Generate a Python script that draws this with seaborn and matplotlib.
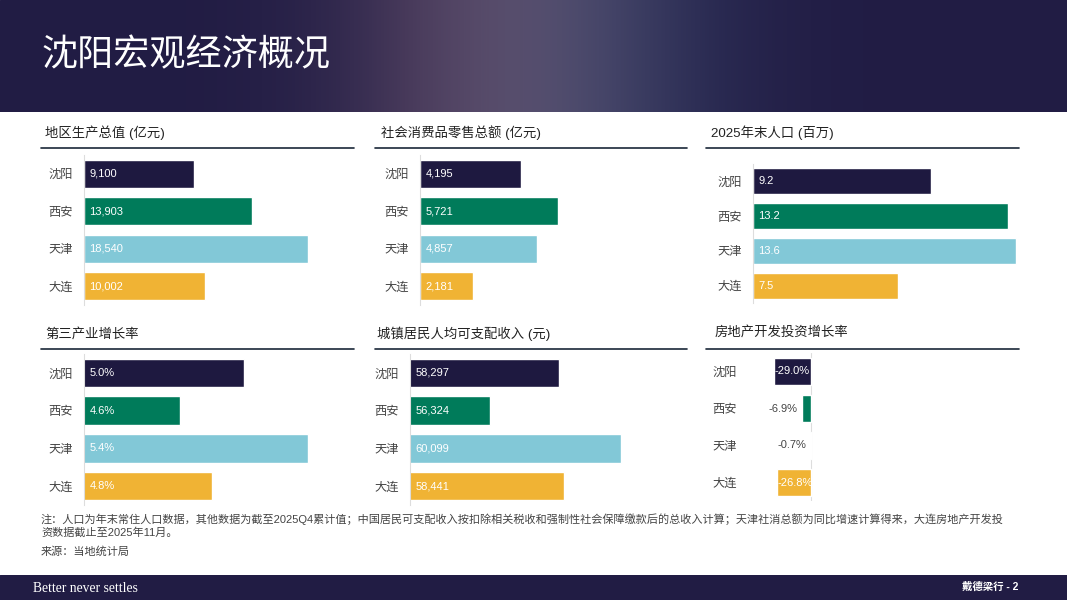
import numpy as np
import pandas as pd
import matplotlib
matplotlib.use('Agg')
import matplotlib.pyplot as plt
from matplotlib.lines import Line2D
from matplotlib.patches import Rectangle
import seaborn as sns

# 数据
cities = ['沈阳', '西安', '天津', '大连']
gdp = [9100, 13903, 18540, 10002]
retail = [4195, 5721, 4857, 2181]
population = [9.2, 13.2, 13.6, 7.5]
tertiary_growth = [5.0, 4.6, 5.4, 4.8]
income = [58297, 56324, 60099, 58441]
re_growth = [-29.0, -6.9, -0.7, -26.8]

titles = ['地区生产总值 (亿元)', '社会消费品零售总额 (亿元)', '2025年末人口 (百万)',
          '第三产业增长率', '城镇居民人均可支配收入 (元)', '房地产开发投资增长率']
page_title = '沈阳宏观经济概况'
note = ('注：人口为年末常住人口数据，其他数据为截至2025Q4累计值；中国居民可支配收入按扣除相关税收和强制性社会保障缴款后的总收入计算；'
        '天津社消总额为同比增速计算得来，大连房地产开发投\n资数据截止至2025年11月。')
source = '来源：当地统计局'

NAVY = '#211c44'
palette = ['#1e1940', '#007b5a', '#82c8d7', '#f0b334']

sns.set_theme(style='white')
plt.rcParams['font.family'] = ['Liberation Sans', 'Noto Sans CJK SC', 'DejaVu Sans']

W, H = 1067, 600
fig = plt.figure(figsize=(W / 100, H / 100), dpi=100)
fig.patch.set_facecolor('white')


def fx(x):
    return x / W


def fy(y):
    return 1 - y / H


def px_axes(l, t, r, b):
    return fig.add_axes([fx(l), fy(b), (r - l) / W, (b - t) / H])


# 页眉（背景照片用柔和渐变代替）
hdr = px_axes(0, 0, W, 112)
hdr.set_xlim(0, 1)
hdr.set_ylim(0, 1)
hdr.axis('off')
hdr.add_patch(Rectangle((0, 0), 1, 1, color=NAVY, zorder=0))
xs = np.linspace(0, 1, 400)
bump = np.exp(-((xs - 0.5) / 0.16) ** 2)
img = np.zeros((1, 400, 4))
warm = np.array([0.66, 0.52, 0.58])
cool = np.array([0.36, 0.48, 0.62])
mix = np.clip((xs - 0.38) / 0.3, 0, 1)[:, None]
img[0, :, :3] = warm * (1 - mix) + cool * mix
img[0, :, 3] = 0.5 * bump
hdr.imshow(img, extent=(0, 1, 0, 1), aspect='auto', interpolation='bilinear', zorder=1)
fig.text(fx(42), fy(55), page_title, color='white', fontsize=26,
         family=['Noto Sans CJK SC'], va='center', ha='left')

# 页脚
ftr = px_axes(0, 575, W, 600)
ftr.set_xlim(0, 1)
ftr.set_ylim(0, 1)
ftr.axis('off')
ftr.add_patch(Rectangle((0, 0), 1, 1, color=NAVY))
fig.text(fx(33), fy(588), 'Better never settles', color='white', fontsize=9.8,
         family=['Liberation Serif'], va='center')
fig.text(fx(1018), fy(587), '戴德梁行 - 2', color='white', fontsize=7.5,
         fontweight='bold', ha='right', va='center')

# 面板布局（像素）：轴位置、x范围、标题位置、下划线
panels = [
    (gdp, (84, 155, 354, 305), (0, 22350), (45, 133), (41, 354, 148), lambda v: f'{v:,}'),
    (retail, (420, 155, 687, 305), (0, 11070), (381, 133), (375, 687, 148), lambda v: f'{v:,}'),
    (population, (753, 164, 1019, 303), (0, 13.75), (711, 133), (706, 1019, 148), lambda v: f'{v:.1f}'),
    (tertiary_growth, (84, 354, 354, 505), (4.0, 5.69), (45, 334), (41, 354, 349), lambda v: f'{v:.1f}%'),
    (income, (410, 354, 687, 505), (54000, 62000), (377, 334), (375, 687, 349), lambda v: f'{v:,}'),
    (re_growth, (748, 353, 1019, 501), (-49.2, 162.5), (715, 332), (706, 1019, 349), lambda v: f'{v:.1f}%'),
]

for k, (vals, box, xlim, tpos, uline, fmt) in enumerate(panels):
    ax = px_axes(*box)
    df = pd.DataFrame({'city': cities, 'value': vals})
    sns.barplot(data=df, x='value', y='city', hue='city', palette=palette,
                order=cities, hue_order=cities, width=0.75, legend=False,
                saturation=1, ax=ax)
    ax.set_xlim(*xlim)
    ax.set_ylim(3.5, -0.5)
    ax.set_xlabel('')
    ax.set_ylabel('')
    ax.set_xticks([])
    ax.tick_params(axis='y', length=0, pad=8, labelsize=8.8, labelcolor='#444444')
    for s in ['top', 'right', 'bottom']:
        ax.spines[s].set_visible(False)
    ax.patch.set_alpha(0)

    if k == 5:
        ax.spines['left'].set_visible(False)
        ax.axvline(0, color='#dddddd', lw=0.8, zorder=0)
        for i, v in enumerate(vals):
            if abs(v) > 20:
                ax.annotate(fmt(v), xy=(v, i), xytext=(0.5, 0), textcoords='offset points',
                            ha='left', va='center', fontsize=8, color='white')
            else:
                ax.annotate(fmt(v), xy=(v, i), xytext=(-3, 0), textcoords='offset points',
                            ha='right', va='center', fontsize=8, color='#444444')
    else:
        ax.spines['left'].set_color('#dddddd')
        ax.spines['left'].set_linewidth(0.8)
        for i, v in enumerate(vals):
            ax.annotate(fmt(v), xy=(0, i), xycoords=ax.get_yaxis_transform(),
                        xytext=(4, 0), textcoords='offset points',
                        ha='left', va='center', fontsize=8, color='white')

    fig.text(fx(tpos[0]), fy(tpos[1]), titles[k], fontsize=9.6, color='#222222',
             ha='left', va='center')
    fig.add_artist(Line2D([fx(uline[0]), fx(uline[1])], [fy(uline[2]), fy(uline[2])],
                          color='#1a2838', lw=1.2))

# 注释
fig.text(fx(41), fy(513), note, fontsize=8.0, color='#444444', ha='left', va='top',
         linespacing=1.3)
fig.text(fx(41), fy(551), source, fontsize=8.0, color='#444444', ha='left', va='center')

fig.savefig('out.png', dpi=100)
